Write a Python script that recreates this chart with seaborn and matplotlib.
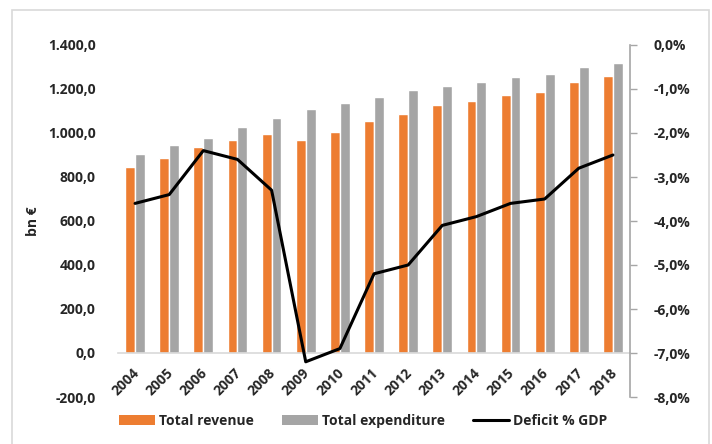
import numpy as np
import pandas as pd
import matplotlib
matplotlib.use("Agg")
import matplotlib.pyplot as plt
import matplotlib.transforms as mtransforms
import seaborn as sns
from matplotlib.patches import Patch, Rectangle
from matplotlib.lines import Line2D

years = [str(y) for y in range(2004, 2019)]
revenue = [845, 885, 938, 970, 997, 970, 1003, 1055, 1088, 1127, 1147, 1174, 1186, 1234, 1259]
expenditure = [904, 944, 977, 1027, 1068, 1109, 1136, 1164, 1195, 1214, 1232, 1253, 1267, 1299, 1318]
deficit = [-3.6, -3.4, -2.4, -2.6, -3.3, -7.2, -6.9, -5.2, -5.0, -4.1, -3.9, -3.6, -3.5, -2.8, -2.5]
left_ticks = [-200, 0, 200, 400, 600, 800, 1000, 1200, 1400]
right_ticks = [-8, -7, -6, -5, -4, -3, -2, -1, 0]

ORANGE = "#ED7D31"
GRAY = "#A5A5A5"
FS = 10

sns.set_theme(style="white")
plt.rcParams["font.family"] = ["Open Sans", "DejaVu Sans"]
plt.rcParams["font.weight"] = "bold"

df = pd.DataFrame({
    "year": years * 2,
    "value": revenue + expenditure,
    "series": ["Total revenue"] * len(years) + ["Total expenditure"] * len(years),
})

fig = plt.figure(figsize=(7.12, 4.44), dpi=100)
ax = fig.add_axes([118 / 712, 1 - 397 / 444, (630 - 118) / 712, (397 - 45) / 444])

sns.barplot(data=df, x="year", y="value", hue="series",
            palette=[ORANGE, GRAY], width=0.58, gap=0.0,
            ax=ax, legend=False, errorbar=None, saturation=1)

ax.set_ylim(-200, 1400)
ax.set_xlim(-0.5, len(years) - 0.5)
ax.set_yticks(left_ticks)
ax.set_yticklabels([f"{v:,.1f}".replace(",", "X").replace(".", ",").replace("X", ".") for v in left_ticks],
                   fontsize=FS, fontweight="bold")
ax.tick_params(axis="y", length=0, pad=16)
ax.set_xlabel("")
ax.set_ylabel("bn €", fontsize=FS, fontweight="bold", labelpad=6)
for s in ["left", "top", "right"]:
    ax.spines[s].set_visible(False)
ax.spines["bottom"].set_position(("data", 0))
ax.spines["bottom"].set_color("#D9D9D9")
ax.spines["bottom"].set_linewidth(1.2)
ax.tick_params(axis="x", length=0, pad=9)
ax.set_xticks(range(len(years)))
ax.set_xticklabels(years, rotation=45, ha="right", va="top", rotation_mode="anchor",
                   fontsize=FS, fontweight="bold")
offset = mtransforms.ScaledTranslation(-3 / 100, 0, fig.dpi_scale_trans)
for lab in ax.get_xticklabels():
    lab.set_transform(lab.get_transform() + offset)
ax.grid(False)

ax2 = ax.twinx()
sns.lineplot(x=np.arange(len(years)), y=deficit, ax=ax2, color="black", linewidth=2.2)
ax2.set_ylim(-8, 0)
ax2.set_yticks(right_ticks)
ax2.set_yticklabels([f"{v:.1f}%".replace(".", ",") for v in right_ticks], fontsize=FS, fontweight="bold")
ax2.tick_params(axis="y", length=5, width=1, color="#A6A6A6", pad=12, right=True, direction="out")
for s in ["left", "top", "bottom"]:
    ax2.spines[s].set_visible(False)
ax2.spines["right"].set_color("#A6A6A6")
ax2.spines["right"].set_linewidth(1.2)
ax2.grid(False)
ax2.set_xlim(-0.5, len(years) - 0.5)

handles = [Patch(facecolor=ORANGE, edgecolor="none", label="Total revenue"),
           Patch(facecolor=GRAY, edgecolor="none", label="Total expenditure"),
           Line2D([0], [0], color="black", linewidth=2.2, label="Deficit % GDP")]
fig.legend(handles=handles, loc="center", bbox_to_anchor=(0.51, 0.052), ncol=3, frameon=False,
           prop={"size": FS, "weight": "bold"}, handlelength=2.6, handleheight=0.8,
           columnspacing=2.0, handletextpad=0.3)

fig.patches.append(Rectangle((12 / 712, -0.01), (709 - 12) / 712, 1 - 10 / 444 + 0.01,
                             transform=fig.transFigure, fill=False, edgecolor="#D9D9D9",
                             linewidth=1.2, zorder=-1))

fig.savefig("out.png", dpi=100)
